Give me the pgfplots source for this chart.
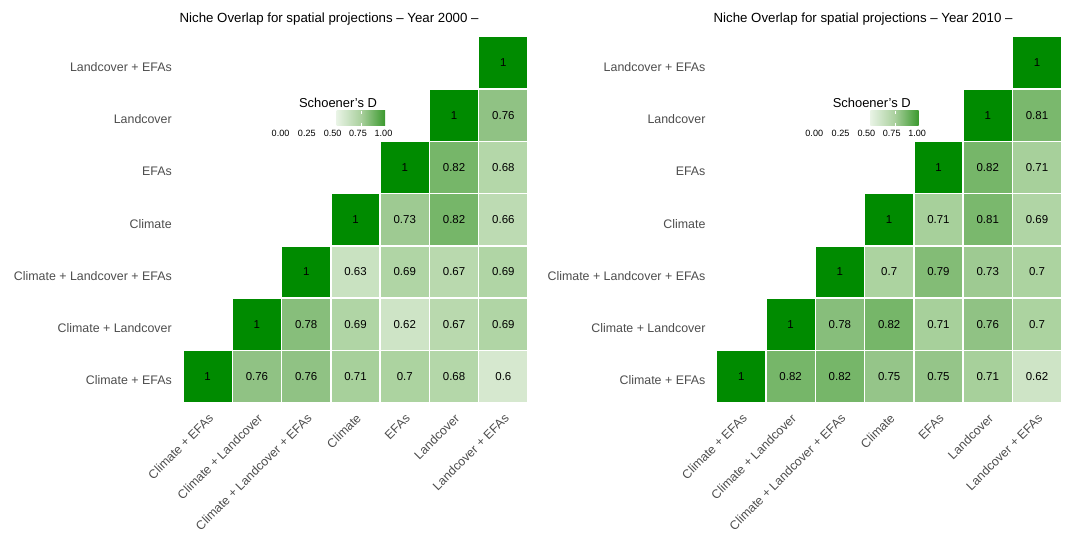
\documentclass[border=0pt]{standalone}
\usepackage{pgfplots}
\pgfplotsset{compat=1.18}
\usepackage{pgfplotstable}
\usepackage{fontspec}
\setmainfont{Liberation Sans}

\definecolor{axisgrey}{HTML}{4D4D4D}

% one tile of the heat map: 1/7 of the plot area in each direction
\pgfdeclareplotmark{cell}{%
  \pgfsetlinewidth{1.1pt}%
  \pgfpathrectangle{\pgfpoint{-18.482pt}{-19.607pt}}{\pgfpoint{36.964pt}{39.214pt}}%
  \pgfusepathqfillstroke}

% colour bar of the key
\pgfdeclarehorizontalshading{schoener}{100bp}{%
  rgb(0bp)=(0.91,0.953,0.898); rgb(25bp)=(0.91,0.953,0.898);
  rgb(50bp)=(0.667,0.816,0.62);
  rgb(75bp)=(0.23,0.6,0.18); rgb(100bp)=(0.23,0.6,0.18)}

% Schoener's D, year 2000 (x = column, y = row)
\pgfplotstableread{
x y D
0 0 1
1 0 0.76
2 0 0.76
3 0 0.71
4 0 0.70
5 0 0.68
6 0 0.60
1 1 1
2 1 0.78
3 1 0.69
4 1 0.62
5 1 0.67
6 1 0.69
2 2 1
3 2 0.63
4 2 0.69
5 2 0.67
6 2 0.69
3 3 1
4 3 0.73
5 3 0.82
6 3 0.66
4 4 1
5 4 0.82
6 4 0.68
5 5 1
6 5 0.76
6 6 1
}\overlapA

% Schoener's D, year 2010
\pgfplotstableread{
x y D
0 0 1
1 0 0.82
2 0 0.82
3 0 0.75
4 0 0.75
5 0 0.71
6 0 0.62
1 1 1
2 1 0.78
3 1 0.82
4 1 0.71
5 1 0.76
6 1 0.70
2 2 1
3 2 0.70
4 2 0.79
5 2 0.73
6 2 0.70
3 3 1
4 3 0.71
5 3 0.81
6 3 0.69
4 4 1
5 4 0.82
6 4 0.71
5 5 1
6 5 0.81
6 6 1
}\overlapB

\pgfplotsset{
  niche/.style={
    scale only axis, width=258.75pt, height=274.5pt,
    anchor=south west,
    xmin=-0.5, xmax=6.5, ymin=-0.5, ymax=6.5,
    axis line style={draw=none}, major tick length=0pt,
    xtick={0,...,6}, ytick={0,...,6},
    xticklabels={Climate + EFAs, Climate + Landcover, Climate + Landcover + EFAs, Climate, EFAs, Landcover, Landcover + EFAs},
    yticklabels={Climate + EFAs, Climate + Landcover, Climate + Landcover + EFAs, Climate, EFAs, Landcover, Landcover + EFAs},
    ticklabel style={font=\fontsize{9.3}{11}\selectfont, text=axisgrey},
    yticklabel style={anchor=east, inner sep=0pt, xshift=-8.25pt, yshift=-3pt},
    xticklabel style={xshift=0pt, yshift=-7.5pt, rotate=45, anchor=north east, inner sep=0pt},
    colormap={nichegreen}{rgb255(0cm)=(255,255,255); rgb255(2cm)=(214,232,207);
      rgb255(4cm)=(172,211,160); rgb255(5.2cm)=(144,194,132);
      rgb255(6.4cm)=(118,182,105); rgb255(8cm)=(70,162,58); rgb255(10cm)=(0,139,0)},
    point meta min=0.5, point meta max=1,
    /pgf/number format/assume math mode=true,
  },
  tiles/.style={
    scatter, only marks, mark=cell, point meta=explicit,
    scatter/use mapped color={draw=white, fill=mapped color},
  },
  values/.style={
    draw=none, mark=none, point meta=explicit,
    nodes near coords,
    every node near coord/.append style={anchor=center, text=black,
      font=\fontsize{8.6}{10}\selectfont},
  },
}

% key: Schoener's D, placed relative to a horizontal offset
\newcommand{\schoenerkey}[1]{%
  \begin{scope}[xshift=#1]
    \node[font=\fontsize{9.7}{11}\selectfont] at (253.5pt,322.5pt) {Schoener's D};
    \shade[shading=schoener] (252.5pt,305.25pt) rectangle (288.75pt,316.7pt);
    \draw[white, line width=0.6pt] (271.3pt,305.25pt) -- ++(0,2.3pt)
                                    (271.3pt,316.7pt) -- ++(0,-2.3pt);
    \foreach \lx/\lab in {210.4/0.00, 230.1/0.25, 249.5/0.50, 268.5/0.75, 287.6/1.00}
      \node[font=\fontsize{6.8}{8}\selectfont] at (\lx pt,300pt) {\lab};
  \end{scope}}

\begin{document}
\begin{tikzpicture}
\useasboundingbox (0,0) rectangle (799.5pt,399.75pt);

\begin{axis}[niche, at={(137.25pt,97.725pt)}]
  \addplot[tiles] table[x=x, y=y, meta=D] {\overlapA};
  \addplot[values] table[x=x, y=y, meta=D] {\overlapA};
\end{axis}
\node[anchor=base west, inner sep=0pt, font=\fontsize{9.95}{12}\selectfont] at (134.5pt,382.85pt)
  {Niche Overlap for spatial projections – Year 2000 –};
\schoenerkey{0pt}

\begin{axis}[niche, at={(537.5pt,97.725pt)}]
  \addplot[tiles] table[x=x, y=y, meta=D] {\overlapB};
  \addplot[values] table[x=x, y=y, meta=D] {\overlapB};
\end{axis}
\node[anchor=base west, inner sep=0pt, font=\fontsize{9.95}{12}\selectfont] at (535pt,382.85pt)
  {Niche Overlap for spatial projections – Year 2010 –};
\schoenerkey{400.3pt}
\end{tikzpicture}
\end{document}
